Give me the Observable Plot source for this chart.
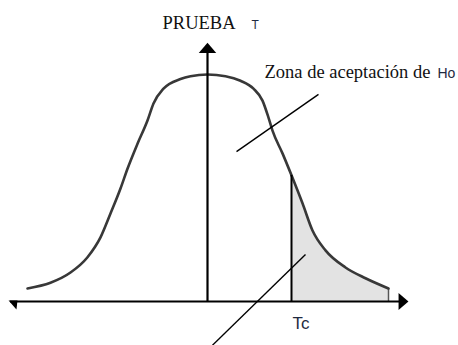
<!DOCTYPE html>
<html>
<head>
<meta charset="utf-8">
<script src="https://cdn.jsdelivr.net/npm/d3@7"></script>
<script src="https://cdn.jsdelivr.net/npm/@observablehq/plot@0.6"></script>
<style>
  html, body { margin: 0; padding: 0; background: #fff; }
  #chart svg { display: block; overflow: visible; }
</style>
</head>
<body>
<div id="chart"></div>
<script>
// Curve: t (horizontal units) and height of the curve
const curveT = [-3.60, -3.14, -2.74, -2.40, -2.14, -1.94, -1.74, -1.60, -1.40, -1.20, -1.08, -0.88, -0.54, -0.34, 0.00,
                0.36, 0.66, 0.92, 1.10, 1.22, 1.30, 1.50, 1.70, 1.90, 2.10, 2.36, 2.76, 3.16, 3.62];
const curveD = [0.023, 0.033, 0.051, 0.078, 0.113, 0.155, 0.199, 0.234, 0.278, 0.319, 0.349, 0.375, 0.392, 0.397, 0.400,
                0.397, 0.389, 0.375, 0.354, 0.324, 0.301, 0.261, 0.218, 0.173, 0.125, 0.090, 0.060, 0.041, 0.023];

// Critical value
const tcValue = 1.68;

// Axis extents (data units)
const xAxisEnds = [-3.94, 3.92];
const yAxisEnds = [0, 0.447];

// Pointer lines [t1, d1, t2, d2]
const pointers = [
  [0.58, 0.264, 2.22, 0.365],
  [1.96, 0.083, 0.10, -0.077]
];

// Labels
const labelText   = ["PRUEBA", "T", "Zona de aceptación de", "Ho", "Tc"];
const labelT      = [-0.90, 0.88, 1.14, 4.60, 1.70];
const labelD      = [0.481, 0.481, 0.393, 0.393, -0.0476];
const labelSize   = [18.5, 12, 18.5, 14, 17];
const labelSerif  = [true, false, true, false, false];

const curve = curveT.map((t, i) => ({t, d: curveD[i]}));
const interp = (t) => {
  for (let i = 0; i < curve.length - 1; i++) {
    const a = curve[i], b = curve[i + 1];
    if (t >= a.t && t <= b.t) return a.d + (b.d - a.d) * (t - a.t) / (b.t - a.t);
  }
  return 0;
};
const tcHeight = interp(tcValue);
const shade = [{t: tcValue, d: tcHeight}, ...curve.filter(p => p.t > tcValue)];
const last = curve[curve.length - 1];

const labels = labelText.map((s, i) => ({s, t: labelT[i], d: labelD[i], size: labelSize[i], serif: labelSerif[i]}));
const links = pointers.map(p => ({x1: p[0], y1: p[1], x2: p[2], y2: p[3]}));

const headSymbol = {
  draw(ctx, size) {
    const s = Math.sqrt(size);
    ctx.moveTo(s * 0.5, 0);
    ctx.lineTo(-s * 0.5, -s * 0.85);
    ctx.lineTo(-s * 0.5, s * 0.85);
    ctx.closePath();
  }
};
const smallHead = {
  draw(ctx, size) {
    const s = Math.sqrt(size) / 10;
    ctx.moveTo(-5 * s, -4 * s);
    ctx.lineTo(4 * s, -4 * s);
    ctx.lineTo(3 * s, 5 * s);
    ctx.closePath();
  }
};

const serif = "'Liberation Serif', 'DejaVu Serif', serif";
const sans = "'Liberation Sans', Arial, sans-serif";

const textMarks = labels.map(l => Plot.text([l], {
  x: "t", y: "d", text: "s", textAnchor: "start", lineAnchor: "bottom",
  fontFamily: l.serif ? serif : sans, fontSize: l.size, fill: l.serif ? "#111" : "#1e2a40"
}));

const chart = Plot.plot({
  width: 458,
  height: 345,
  marginTop: 0, marginRight: 0, marginBottom: 0, marginLeft: 0,
  x: {domain: [-4, 4], range: [7, 407], axis: null},
  y: {domain: [0, 0.4], range: [301, 74], axis: null},
  style: {background: "#fff", overflow: "visible"},
  marks: [
    Plot.areaY(shade, {x: "t", y: "d", fill: "#e3e3e3", curve: "monotone-x"}),
    Plot.ruleX([last], {x: "t", y1: 0, y2: "d", stroke: "#555", strokeWidth: 1.5}),
    Plot.line(curve, {x: "t", y: "d", stroke: "#383838", strokeWidth: 2.6, curve: "monotone-x"}),
    Plot.ruleY([0], {x1: xAxisEnds[0], x2: xAxisEnds[1], stroke: "#000", strokeWidth: 2}),
    Plot.ruleX([0], {y1: yAxisEnds[0], y2: yAxisEnds[1], stroke: "#000", strokeWidth: 2.2}),
    Plot.ruleX([tcValue], {y1: 0, y2: tcHeight, stroke: "#000", strokeWidth: 2}),
    Plot.dot([{t: xAxisEnds[1], d: 0}], {x: "t", y: "d", symbol: headSymbol, r: 5.6, fill: "#000", stroke: null}),
    Plot.dot([{t: 0, d: yAxisEnds[1]}], {x: "t", y: "d", symbol: headSymbol, r: 5.8, rotate: -90, fill: "#000", stroke: null}),
    Plot.dot([{t: xAxisEnds[0], d: 0}], {x: "t", y: "d", dx: 3, dy: 3, symbol: smallHead, r: 5.6, fill: "#000", stroke: null}),
    Plot.link(links, {x1: "x1", y1: "y1", x2: "x2", y2: "y2", stroke: "#000", strokeWidth: 1.4}),
    ...textMarks
  ]
});
document.getElementById("chart").appendChild(chart);
</script>
</body>
</html>
